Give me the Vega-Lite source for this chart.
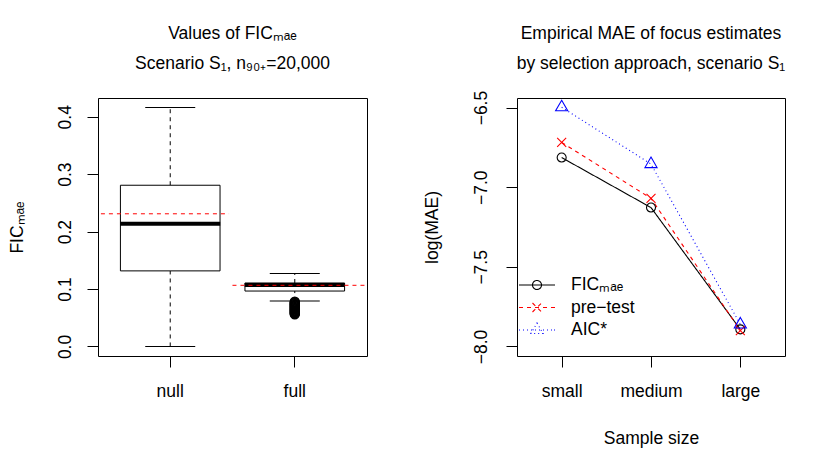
{
  "$schema": "https://vega.github.io/schema/vega-lite/v6.json",
  "autosize": {"type": "pad"},
  "padding": {"left": 7, "top": 24, "right": 5, "bottom": 5},
  "background": "white",
  "datasets": {
    "boxes": [
      {"group": "null", "lo": 0.0, "q1": 0.1316, "median": 0.2135, "q3": 0.2807, "hi": 0.416, "mean": 0.231},
      {"group": "full", "lo": 0.079, "q1": 0.0965, "median": 0.107, "q3": 0.1105, "hi": 0.127, "mean": 0.1065}
    ],
    "outliers": [
      {"group": "full", "value": 0.056}, {"group": "full", "value": 0.057}, {"group": "full", "value": 0.058},
      {"group": "full", "value": 0.059}, {"group": "full", "value": 0.060}, {"group": "full", "value": 0.061},
      {"group": "full", "value": 0.062}, {"group": "full", "value": 0.063}, {"group": "full", "value": 0.064},
      {"group": "full", "value": 0.065}, {"group": "full", "value": 0.066}, {"group": "full", "value": 0.067},
      {"group": "full", "value": 0.068}, {"group": "full", "value": 0.069}, {"group": "full", "value": 0.070},
      {"group": "full", "value": 0.071}, {"group": "full", "value": 0.072}, {"group": "full", "value": 0.073},
      {"group": "full", "value": 0.074}, {"group": "full", "value": 0.075}, {"group": "full", "value": 0.076},
      {"group": "full", "value": 0.077}, {"group": "full", "value": 0.078}
    ],
    "mae": [
      {"size": "small", "method": "FICₘₐₑ", "value": -6.814},
      {"size": "medium", "method": "FICₘₐₑ", "value": -7.128},
      {"size": "large", "method": "FICₘₐₑ", "value": -7.893},
      {"size": "small", "method": "pre−test", "value": -6.719},
      {"size": "medium", "method": "pre−test", "value": -7.070},
      {"size": "large", "method": "pre−test", "value": -7.900},
      {"size": "small", "method": "AIC*", "value": -6.498},
      {"size": "medium", "method": "AIC*", "value": -6.855},
      {"size": "large", "method": "AIC*", "value": -7.862}
    ]
  },
  "config": {
    "font": "Liberation Sans",
    "view": {"stroke": "black", "strokeWidth": 1},
    "axis": {
      "labelFont": "Liberation Sans", "labelFontSize": 17.5, "labelColor": "black",
      "titleFont": "Liberation Sans", "titleFontSize": 17.5, "titleFontWeight": "normal", "titleColor": "black",
      "tickColor": "black", "tickSize": 11, "tickWidth": 1, "domain": false, "grid": false,
      "labelFlush": false, "labelOverlap": false
    },
    "axisX": {"labelAngle": 0, "labelBaseline": "alphabetic", "labelPadding": 29, "titleBaseline": "alphabetic", "titleY": 87},
    "axisY": {"labelAngle": 270, "labelAlign": "center", "labelBaseline": "alphabetic", "labelPadding": 17, "titleAngle": 270, "titleBaseline": "alphabetic", "titleAlign": "center", "titleX": -76, "titleY": 129},
    "title": {"font": "Liberation Sans", "fontSize": 17.5, "fontWeight": "normal", "color": "black", "lineHeight": 30, "frame": "group", "anchor": "middle", "offset": 24},
    "point": {"opacity": 1},
    "tick": {"opacity": 1}
  },
  "resolve": {"legend": {"color": "independent", "shape": "independent", "strokeDash": "independent"}},
  "hconcat": [
    {
      "width": 269,
      "height": 258,
      "title": {"text": ["Values of FICₘₐₑ", "Scenario S₁, n₉₀₊=20,000"], "offset": 26},
      "data": {"name": "boxes"},
      "encoding": {
        "x": {"field": "group", "type": "nominal", "title": null,
              "scale": {"domain": ["null", "full"], "paddingInner": 0.2, "paddingOuter": 0.18}},
        "y": {"type": "quantitative"}
      },
      "layer": [
        {
          "mark": {"type": "rule", "color": "black", "strokeWidth": 1, "strokeDash": [4, 4]},
          "encoding": {
            "y": {"field": "lo", "type": "quantitative", "title": "FICₘₐₑ",
                  "scale": {"domain": [-0.0166, 0.4326], "nice": false, "zero": false},
                  "axis": {"values": [0, 0.1, 0.2, 0.3, 0.4], "format": ".1f"}},
            "y2": {"field": "q1"}
          }
        },
        {
          "mark": {"type": "rule", "color": "black", "strokeWidth": 1, "strokeDash": [4, 4]},
          "encoding": {"y": {"field": "q3", "type": "quantitative"}, "y2": {"field": "hi"}}
        },
        {
          "mark": {"type": "tick", "orient": "horizontal", "size": 50, "thickness": 1, "color": "black", "opacity": 1},
          "encoding": {"y": {"field": "hi", "type": "quantitative"}}
        },
        {
          "mark": {"type": "tick", "orient": "horizontal", "size": 50, "thickness": 1, "color": "black", "opacity": 1},
          "encoding": {"y": {"field": "lo", "type": "quantitative"}}
        },
        {
          "mark": {"type": "bar", "fill": "white", "stroke": "black", "strokeWidth": 1, "opacity": 1},
          "encoding": {"y": {"field": "q1", "type": "quantitative"}, "y2": {"field": "q3"}}
        },
        {
          "mark": {"type": "tick", "orient": "horizontal", "size": 100, "thickness": 4, "color": "black", "opacity": 1},
          "encoding": {"y": {"field": "median", "type": "quantitative"}}
        },
        {
          "data": {"name": "outliers"},
          "mark": {"type": "point", "shape": "circle", "size": 81, "filled": false, "color": "black", "strokeWidth": 1.3, "opacity": 1},
          "encoding": {"y": {"field": "value", "type": "quantitative"}}
        },
        {
          "transform": [{"filter": "datum.group == 'null'"}],
          "mark": {"type": "rule", "color": "#FF0000", "strokeWidth": 1, "strokeDash": [4, 4], "xOffset": -19.5, "x2Offset": 9},
          "encoding": {
            "x": {"field": "group", "type": "nominal", "bandPosition": 0},
            "x2": {"field": "group", "bandPosition": 1},
            "y": {"field": "mean", "type": "quantitative"}
          }
        },
        {
          "transform": [{"filter": "datum.group == 'full'"}],
          "mark": {"type": "rule", "color": "#FF0000", "strokeWidth": 1, "strokeDash": [4, 4], "xOffset": -12.5, "x2Offset": 30, "clip": true},
          "encoding": {
            "x": {"field": "group", "type": "nominal", "bandPosition": 0},
            "x2": {"field": "group", "bandPosition": 1},
            "y": {"field": "mean", "type": "quantitative"}
          }
        }
      ]
    },
    {
      "width": 268,
      "height": 258,
      "title": {"text": ["Empirical MAE of focus estimates", "by selection approach, scenario S₁"], "offset": 18},
      "data": {"name": "mae"},
      "encoding": {
        "x": {"field": "size", "type": "nominal", "title": "Sample size",
              "scale": {"type": "point", "domain": ["small", "medium", "large"], "padding": 0.5}},
        "y": {"field": "value", "type": "quantitative", "title": "log(MAE)",
              "scale": {"domain": [-8.06, -6.44], "nice": false, "zero": false},
              "axis": {"values": [-8, -7.5, -7, -6.5], "format": ".1f", "labelPadding": 20, "titleX": -80}}
      },
      "layer": [
        {
          "mark": {"type": "line", "strokeWidth": 1.1, "opacity": 1},
          "encoding": {
            "color": {"field": "method", "type": "nominal",
                      "scale": {"domain": ["FICₘₐₑ", "pre−test", "AIC*"], "range": ["black", "#FF0000", "#0000FF"]}},
            "strokeDash": {"field": "method", "type": "nominal", "legend": null,
                           "scale": {"domain": ["FICₘₐₑ", "pre−test", "AIC*"], "range": [[1, 0], [4, 4], [1, 3]]}}
          }
        },
        {
          "transform": [{"filter": "datum.method == 'FICₘₐₑ'"}],
          "mark": {"type": "point", "shape": "circle", "size": 81, "filled": false, "strokeWidth": 1.1, "opacity": 1},
          "encoding": {"color": {"field": "method", "type": "nominal"}}
        },
        {
          "transform": [{"filter": "datum.method == 'pre−test'"}],
          "mark": {"type": "point", "shape": "M-1,-1L1,1M-1,1L1,-1", "size": 81, "filled": false, "strokeWidth": 1.1, "opacity": 1},
          "encoding": {"color": {"field": "method", "type": "nominal"}}
        },
        {
          "transform": [{"filter": "datum.method == 'AIC*'"}],
          "mark": {"type": "point", "shape": "M0,-1.555L1.347,0.778L-1.347,0.778Z", "size": 81, "filled": false, "strokeWidth": 1.1, "opacity": 1},
          "encoding": {"color": {"field": "method", "type": "nominal"}}
        },
        {
          "mark": {"type": "point", "size": 400, "filled": false, "strokeWidth": 1, "opacity": 0},
          "encoding": {
            "color": {"field": "method", "type": "nominal",
                      "legend": {"title": null, "orient": "none", "legendX": 9, "legendY": 176, "symbolSize": 400,
                                 "symbolStrokeWidth": 1.1, "symbolOpacity": 1, "labelOffset": 23, "rowPadding": 2.5,
                                 "labelFontSize": 17.5, "labelFont": "Liberation Sans", "labelColor": "black", "padding": 0}},
            "shape": {"field": "method", "type": "nominal",
                      "scale": {"domain": ["FICₘₐₑ", "pre−test", "AIC*"],
                                "range": [
                                  "M-1.8,0H1.8M0.45,0A0.45,0.45 0 1,1 -0.45,0A0.45,0.45 0 1,1 0.45,0",
                                  "M-1.8,0H-1.4M-1,0H-0.6M-0.2,0H0.2M0.6,0H1M1.4,0H1.8M-0.45,-0.45L0.45,0.45M-0.45,0.45L0.45,-0.45",
                                  "M-1.8,0H-1.7M-1.4,0H-1.3M-1,0H-0.9M-0.6,0H-0.5M-0.2,0H-0.1M0.2,0H0.3M0.6,0H0.7M1,0H1.1M1.4,0H1.5M1.7,0H1.8M0,-0.7L0.606,0.35L-0.606,0.35Z"
                                ]},
                      "legend": {"title": null, "orient": "none", "legendX": 9, "legendY": 176, "symbolSize": 400,
                                 "symbolStrokeWidth": 1.1, "symbolOpacity": 1, "labelOffset": 23, "rowPadding": 2.5,
                                 "labelFontSize": 17.5, "labelFont": "Liberation Sans", "labelColor": "black", "padding": 0}}
          }
        }
      ]
    }
  ],
  "spacing": 54
}
